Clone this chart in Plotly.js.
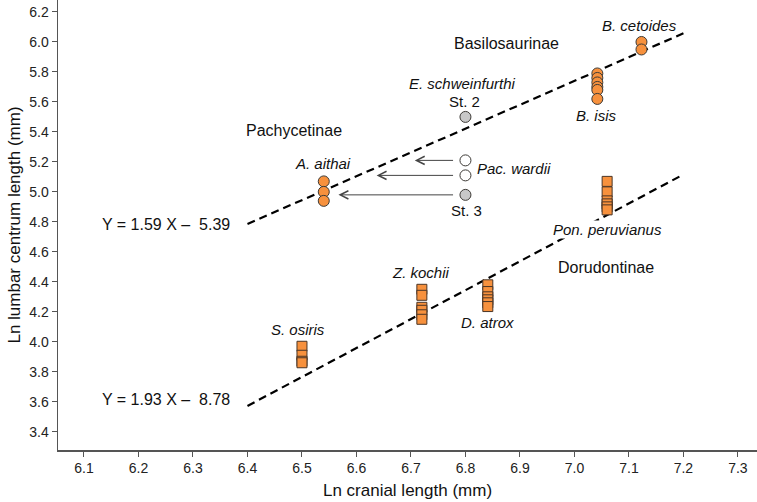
<!DOCTYPE html>
<html>
<head>
<meta charset="utf-8">
<script src="https://cdn.plot.ly/plotly-3.0.1.min.js"></script>
<style>html,body{margin:0;padding:0;background:#fff;}#chart{width:757px;height:502px;}</style>
</head>
<body>
<div id="chart"></div>
<script>
// ---- Data ----
// Basilosaurinae (orange circles)
const bCetoidesX = [7.123, 7.123];
const bCetoidesY = [6.00, 5.95];
const bIsisX = [7.042, 7.042, 7.042, 7.042, 7.042, 7.042];
const bIsisY = [5.79, 5.76, 5.73, 5.70, 5.68, 5.62];
// Pachycetinae (orange circles)
const aAithaiX = [6.54, 6.54, 6.54];
const aAithaiY = [5.07, 5.00, 4.94];
// Pac. wardii (white circles)
const pacWardiiX = [6.80, 6.80];
const pacWardiiY = [5.21, 5.11];
// E. schweinfurthi St. 2 and St. 3 (grey circles)
const eSchwX = [6.80, 6.80];
const eSchwY = [5.50, 4.98];
// Dorudontinae (orange squares)
const ponX = [7.06, 7.06, 7.06, 7.06, 7.06, 7.06];
const ponY = [5.07, 5.00, 4.94, 4.92, 4.90, 4.88];
const zKochiiX = [6.72, 6.72, 6.72, 6.72, 6.72, 6.72];
const zKochiiY = [4.35, 4.31, 4.23, 4.21, 4.18, 4.15];
const dAtroxX = [6.841, 6.841, 6.841, 6.841, 6.841, 6.841];
const dAtroxY = [4.38, 4.335, 4.30, 4.28, 4.26, 4.235];
const sOsirisX = [6.50, 6.50, 6.50, 6.50];
const sOsirisY = [3.97, 3.91, 3.87, 3.86];
// Regression lines
const upperLineX = [6.40, 7.20];
const upperLineY = [4.786, 6.058];
const lowerLineX = [6.40, 7.20];
const lowerLineY = [3.572, 5.116];
// Arrows (Pac. wardii / St. 3 shifted to A. aithai)
const arrowTailX = [6.78, 6.78, 6.78];
const arrowHeadX = [6.707, 6.637, 6.567];
const arrowY = [5.21, 5.11, 4.98];
// Ticks
const xTickVals = [6.1, 6.2, 6.3, 6.4, 6.5, 6.6, 6.7, 6.8, 6.9, 7.0, 7.1, 7.2, 7.3];
const yTickVals = [3.4, 3.6, 3.8, 4.0, 4.2, 4.4, 4.6, 4.8, 5.0, 5.2, 5.4, 5.6, 5.8, 6.0, 6.2];

const FONT = 'Liberation Sans, Arial, Helvetica, sans-serif';
const ORANGE = '#F7913D';
const EDGE = '#3d3a36';

function circles(x, y, fill) {
  return {x: x, y: y, type: 'scatter', mode: 'markers', hoverinfo: 'skip',
    marker: {symbol: 'circle', size: 11, color: fill, line: {color: EDGE, width: 1}}};
}
function squares(x, y) {
  return {x: x, y: y, type: 'scatter', mode: 'markers', hoverinfo: 'skip',
    marker: {symbol: 'square', size: 10, color: ORANGE, line: {color: '#4a3526', width: 1}}};
}
function dashLine(x, y) {
  return {x: x, y: y, type: 'scatter', mode: 'lines', hoverinfo: 'skip',
    line: {color: '#000', width: 2.2, dash: '8px,5px'}};
}

const data = [
  dashLine(upperLineX, upperLineY),
  dashLine(lowerLineX, lowerLineY),
  circles(bCetoidesX, bCetoidesY, ORANGE),
  circles(bIsisX, bIsisY, ORANGE),
  circles(aAithaiX, aAithaiY, ORANGE),
  circles(pacWardiiX, pacWardiiY, '#ffffff'),
  circles(eSchwX, eSchwY, '#C8C8C8'),
  squares(ponX, ponY),
  squares(zKochiiX, zKochiiY),
  squares(dAtroxX, dAtroxY),
  squares(sOsirisX, sOsirisY)
];

function lab(text, x, y, size, italic, xanchor, bg) {
  const a = {text: italic ? '<i>' + text + '</i>' : text, x: x, y: y, xref: 'x', yref: 'y',
    showarrow: false, xanchor: xanchor || 'center', yanchor: 'middle',
    font: {family: FONT, size: size, color: '#111'}};
  if (bg) { a.bgcolor = '#ffffff'; a.borderpad = 0; }
  return a;
}

const annotations = [
  lab('Basilosaurinae', 6.876, 5.987, 16, false),
  lab('B. cetoides', 7.120, 6.107, 15, true),
  lab('B. isis', 7.041, 5.507, 15, true),
  lab('E. schweinfurthi', 6.795, 5.720, 15, true),
  lab('St. 2', 6.799, 5.600, 15, false),
  lab('Pachycetinae', 6.485, 5.407, 16, false),
  lab('A. aithai', 6.539, 5.187, 15, true),
  lab('Pac. wardii', 6.817, 5.158, 15, true, 'left'),
  lab('St. 3', 6.801, 4.873, 15, false),
  lab('Y = 1.59 X \u2013  5.39', 6.250, 4.780, 16, false),
  lab('Pon. peruvianus', 7.061, 4.747, 15, true, 'center', true),
  lab('Dorudontinae', 7.058, 4.493, 16, false),
  lab('Z. kochii', 6.718, 4.460, 15, true),
  lab('D. atrox', 6.841, 4.127, 15, true),
  lab('S. osiris', 6.493, 4.080, 15, true),
  lab('Y = 1.93 X \u2013  8.78', 6.250, 3.613, 16, false)
];
for (let i = 0; i < arrowY.length; i++) {
  annotations.push({x: arrowHeadX[i], y: arrowY[i], ax: arrowTailX[i], ay: arrowY[i],
    xref: 'x', yref: 'y', axref: 'x', ayref: 'y', text: '', showarrow: true,
    arrowhead: 5, arrowsize: 1.6, arrowwidth: 1, arrowcolor: '#444', standoff: 0, startstandoff: 0});
}

const axisCommon = {
  showgrid: false, zeroline: false, showline: true, linecolor: '#555', linewidth: 1.5,
  ticks: 'outside', ticklen: 5, tickwidth: 1, tickcolor: '#555', tickformat: '.1f',
  tickfont: {family: FONT, size: 14, color: '#222'}, fixedrange: true
};

const layout = {
  width: 757, height: 502,
  margin: {l: 58, r: 0, t: 0, b: 52, pad: 0},
  paper_bgcolor: '#fff', plot_bgcolor: '#fff',
  showlegend: false,
  font: {family: FONT, color: '#111'},
  xaxis: Object.assign({}, axisCommon, {
    range: [6.0523, 7.335], tickvals: xTickVals,
    title: {text: 'Ln cranial length (mm)', font: {family: FONT, size: 17, color: '#111'}, standoff: 9}
  }),
  yaxis: Object.assign({}, axisCommon, {
    range: [3.278, 6.28], tickvals: yTickVals,
    title: {text: 'Ln lumbar centrum length (mm)', font: {family: FONT, size: 17, color: '#111'}, standoff: 4}
  }),
  annotations: annotations
};

Plotly.newPlot('chart', data, layout, {displayModeBar: false, staticPlot: true});
</script>
</body>
</html>
